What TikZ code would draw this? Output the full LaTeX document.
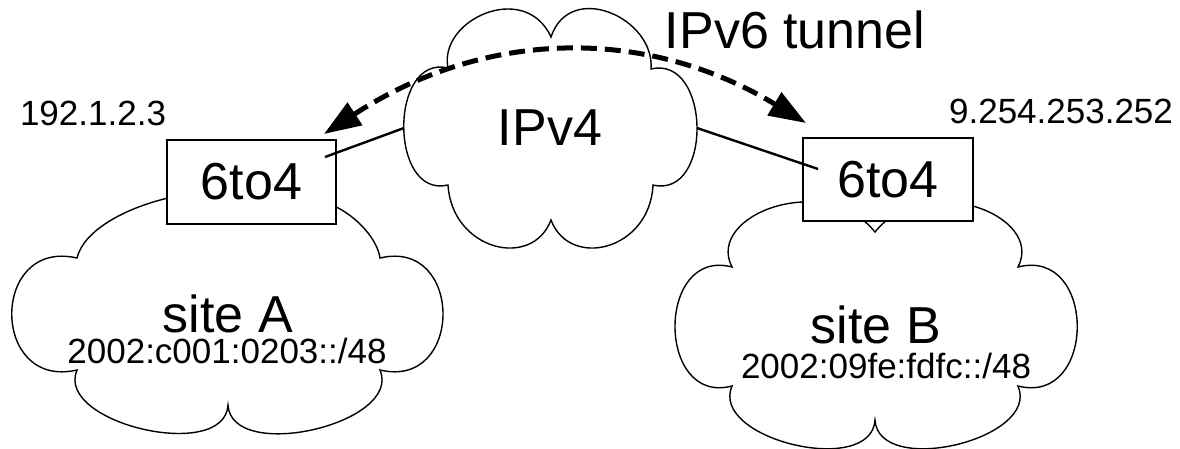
\documentclass[tikz,border=0pt]{standalone}
\usepackage{fontspec}
\setmainfont{Liberation Sans}
\usetikzlibrary{arrows.meta}
\tikzset{
  cloudline/.style={draw=black, line width=1.4pt, fill=white},
  gwbox/.style={draw=black, line width=1.5pt, fill=white, inner sep=0pt, font=\fontsize{52}{60}\selectfont},
  biglabel/.style={inner sep=0pt, anchor=base, font=\fontsize{52}{60}\selectfont},
  smalllabel/.style={inner sep=0pt, anchor=base, font=\fontsize{35}{42}\selectfont},
  link/.style={draw=black, line width=2.4pt},
  tunnel/.style={draw=black, line width=5pt, dash pattern=on 16pt off 8pt,
    {Triangle[length=37pt,width=26pt]}-{Triangle[length=37pt,width=26pt]}}
}
\begin{document}
\begin{tikzpicture}[x=1pt,y=-1pt]
\useasboundingbox (0,0) rectangle (1180,448);
% site A cloud
\path[cloudline] (77,258) .. controls (90,205) and (230,170) .. (290,205)
  .. controls (320,185) and (375,225) .. (380,258)
  .. controls (464,238) and (464,390) .. (380,370)
  .. controls (402.7,423.8) and (231.3,463.2) .. (228,405)
  .. controls (224.8,462.8) and (54.4,423.2) .. (77,370)
  .. controls (-10,390) and (-10,238) .. cycle;
% site B cloud
\path[cloudline] (732,267) .. controls (705,215) and (825,170) .. (875,232)
  .. controls (925,170) and (1045,215) .. (1018,267)
  .. controls (1097,247) and (1097,406) .. (1018,386)
  .. controls (1040.9,439.2) and (878.5,477.8) .. (875,420)
  .. controls (871.5,477.8) and (709.1,439.2) .. (732,386)
  .. controls (656,406) and (656,247) .. cycle;
% IPv4 cloud
\path[cloudline] (448,68) .. controls (438,20) and (525,-20) .. (551,37)
  .. controls (570,-20) and (655,18) .. (651,69)
  .. controls (711,55) and (713,199) .. (653,185)
  .. controls (650,250) and (570,270) .. (551,220)
  .. controls (532,270) and (452,250) .. (448,185)
  .. controls (389,199) and (389,54) .. cycle;
% gateways
\node[gwbox, minimum width=169pt, minimum height=84pt] (gwA) at (251.5,182) {6to4};
\node[gwbox, minimum width=170pt, minimum height=83pt] (gwB) at (888,179.5) {6to4};
% labels
\node[biglabel] (ipv4) at (550,145) {IPv4};
\node[biglabel] (tun) at (795,48) {IPv6 tunnel};
\node[smalllabel] (addrA) at (93,125) {192.1.2.3};
\node[smalllabel] (addrB) at (1061,123) {9.254.253.252};
\node[biglabel] (siteA) at (228,332) {site A};
\node[smalllabel] (pfxA) at (227,363) {2002:c001:0203::/48};
\node[biglabel] (siteB) at (876,343) {site B};
\node[smalllabel] (pfxB) at (886,378) {2002:09fe:fdfc::/48};
% links
\coordinate (v4L) at (404,128);
\coordinate (v4R) at (697,128);
\coordinate (inA) at (325,157);
\coordinate (inB) at (818,169);
\draw[link] (v4L) -- (inA);
\draw[link] (v4R) -- (inB);
% tunnel
\coordinate (tipA) at (324,134);
\coordinate (tipB) at (806,123);
\draw[tunnel] (tipA) .. controls (484.7,29.3) and (645.3,25.7) .. (tipB);
\end{tikzpicture}
\end{document}
